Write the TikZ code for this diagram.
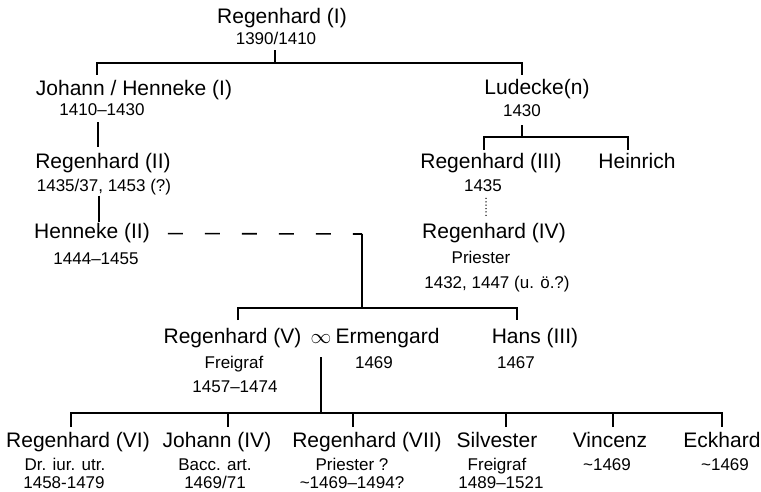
\documentclass[tikz,border=0pt]{standalone}
\usepackage{fontspec}
\setmainfont{Liberation Sans}

\begin{document}
\begin{tikzpicture}[x=1pt,y=-1pt,
  pname/.style={anchor=base,inner sep=0pt,font=\fontsize{21}{24}\selectfont},
  pdate/.style={anchor=base,inner sep=0pt,font=\fontsize{17}{20}\selectfont},
  line/.style={line width=1.6pt}]

\useasboundingbox (0,0) rectangle (761,492);

% First generation
\node[pname] (r1) at (282,23.5) {Regenhard (I)};
\node[pdate] (r1d) at (276,45) {1390/1410};

% Second generation
\node[pname] (jh1) at (134,96) {Johann / Henneke (I)};
\node[pdate] (jh1d) at (102,116) {1410–1430};
\node[pname] (lu) at (537,95) {Ludecke(n)};
\node[pdate] (lud) at (522,117) {1430};

% Left line
\node[pname] (r2) at (103,169) {Regenhard (II)};
\node[pdate] (r2d) at (104,192) {1435/37, 1453 (?)};
\node[pname] (h2) at (92,239) {Henneke (II)};
\node[pdate] (h2d) at (96,265) {1444–1455};

% Right line
\node[pname] (r3) at (491,169) {Regenhard (III)};
\node[pdate] (r3d) at (483,192) {1435};
\node[pname] (hei) at (637,169) {Heinrich};
\node[pname] (r4) at (494,238) {Regenhard (IV)};
\node[pdate] (r4p) at (481,263) {Priester};
\node[pdate] (r4d) at (497,288) {1432, 1447 (u. ö.?)};

% Regenhard (V) and Hans (III)
\node[pname] (r5) at (232.5,343) {Regenhard (V)};
\node[pname] (mar) at (321,343) {$\infty$};
\node[pname] (erm) at (387.5,343) {Ermengard};
\node[pname] (ha3) at (535,343) {Hans (III)};
\node[pdate] (r5p) at (234,368) {Freigraf};
\node[pdate] (r5d) at (235,392) {1457–1474};
\node[pdate] (ermd) at (374,368) {1469};
\node[pdate] (ha3d) at (516,368) {1467};

% Children
\node[pname] (r6) at (78,447) {Regenhard (VI)};
\node[pdate] (r6p) at (65,470) {Dr. iur. utr.};
\node[pdate] (r6d) at (64,488.5) {1458-1479};
\node[pname] (jo4) at (217,447) {Johann (IV)};
\node[pdate] (jo4p) at (215,470) {Bacc. art.};
\node[pdate] (jo4d) at (215,488.5) {1469/71};
\node[pname] (r7) at (367,447) {Regenhard (VII)};
\node[pdate] (r7p) at (352,470) {Priester ?};
\node[pdate] (r7d) at (352,488.5) {\textasciitilde1469–1494?};
\node[pname] (sil) at (497,447) {Silvester};
\node[pdate] (silp) at (497,470) {Freigraf};
\node[pdate] (sild) at (501,488.5) {1489–1521};
\node[pname] (vin) at (610,447) {Vincenz};
\node[pdate] (vind) at (607,470) {\textasciitilde1469};
\node[pname] (eck) at (722,447) {Eckhard};
\node[pdate] (eckd) at (725,470) {\textasciitilde1469};

% Bar points
\coordinate (b1) at (275,63);
\coordinate (t-jh1) at (97,75);
\coordinate (t-lu) at (522,75);
\coordinate (b3) at (522,137);
\coordinate (t-r3) at (484,150);
\coordinate (t-hei) at (628,150);
\coordinate (hc) at (362,234);
\coordinate (b5) at (362,308);
\coordinate (t-r5) at (238,320);
\coordinate (t-ha3) at (517,320);
\coordinate (b6) at (321,413);
\coordinate (t-r6) at (71,427);
\coordinate (t-jo4) at (228,427);
\coordinate (t-r7) at (353,427);
\coordinate (t-sil) at (506,427);
\coordinate (t-vin) at (613,427);
\coordinate (t-eck) at (722,427);

% Connectors
\draw[line] ([xshift=-1pt,yshift=-5pt]r1d.south) -- (b1);
\draw[line] (t-jh1) |- (b1) -| (t-lu);
\draw[line] ([xshift=-4pt,yshift=-6pt]jh1d.south) -- ([xshift=-5pt,yshift=6.5pt]r2.north);
\draw[line] ([xshift=-5pt]r2d.south) -- ([xshift=7pt,yshift=1.5pt]h2.north);
\draw[line] ([yshift=-8pt]lud.south) -- (b3);
\draw[line] (t-r3) |- (b3) -| (t-hei);
\draw[line width=1.5pt,line cap=round,dash pattern=on 0pt off 3.4pt] ([xshift=3pt,yshift=-6pt]r3d.south) -- ([xshift=-8pt,yshift=7pt]r4.north);
\draw[line,dash pattern=on 15pt off 22pt] ([xshift=18pt]h2.east) -- (hc);
\draw[line] (hc) -- (b5);
\draw[line] (t-r5) |- (b5) -| (t-ha3);
\draw[line] ([yshift=-14pt]mar.south) -- (b6);
\draw[line] (t-r6) |- (b6) -| (t-eck);
\foreach \n in {jo4,r7,sil,vin}
  \draw[line] (t-\n) -- (t-\n |- b6);

\end{tikzpicture}
\end{document}
